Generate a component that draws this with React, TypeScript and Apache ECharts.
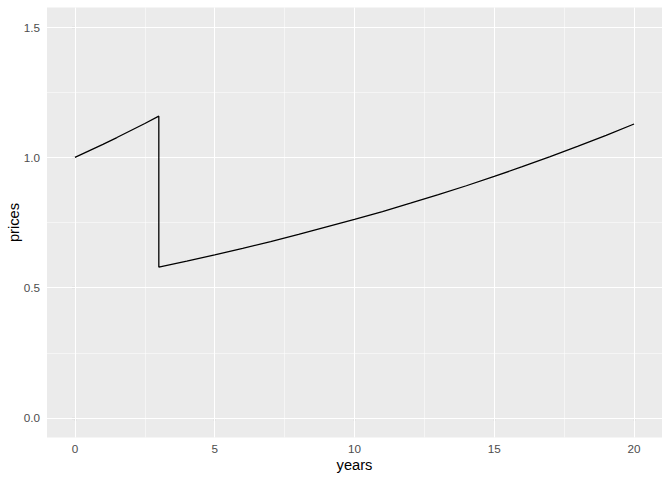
import React, { useEffect, useRef } from "react";
import * as echarts from "echarts";

const years = [0, 0.5, 1, 1.5, 2, 2.5, 3, 3, 4, 5, 6, 7, 8, 9, 10, 11, 12, 13, 14, 15, 16, 17, 18, 19, 20];
const prices = [1.0, 1.025, 1.05, 1.076, 1.103, 1.13, 1.158, 0.579, 0.602, 0.626, 0.651, 0.677, 0.704, 0.733, 0.762, 0.792, 0.824, 0.857, 0.891, 0.927, 0.964, 1.003, 1.043, 1.084, 1.128];

const xMajor = [0, 5, 10, 15, 20];
const xMinor = [2.5, 7.5, 12.5, 17.5];
const yMajor = [0, 0.5, 1.0, 1.5];
const yMinor = [0.25, 0.75, 1.25];

const FONT = "Liberation Sans, Arial, Helvetica, sans-serif";

export default function App() {
  const ref = useRef<HTMLDivElement>(null);
  useEffect(() => {
    document.body.style.margin = "0";
    if (!ref.current) return;
    const chart = echarts.init(ref.current, null, { renderer: "svg" });
    const major = { color: "#FFFFFF", width: 1.07, type: "solid" };
    const minor = { color: "#FFFFFF", width: 0.53, type: "solid" };
    const gridLines: any[] = [
      ...xMinor.map((v) => ({ xAxis: v, lineStyle: minor })),
      ...yMinor.map((v) => ({ yAxis: v, lineStyle: minor })),
      ...xMajor.map((v) => ({ xAxis: v, lineStyle: major })),
      ...yMajor.map((v) => ({ yAxis: v, lineStyle: major })),
    ];
    chart.setOption({
      animation: false,
      backgroundColor: "#FFFFFF",
      grid: {
        left: 47,
        right: 10,
        top: 7.5,
        bottom: 42.5,
        show: true,
        backgroundColor: "#EBEBEB",
        borderWidth: 0,
        containLabel: false,
        outerBoundsMode: "none",
      },
      xAxis: {
        type: "value",
        min: -1,
        max: 21,
        name: "years",
        nameLocation: "middle",
        nameGap: 19.5,
        nameMoveOverlap: false,
        nameTextStyle: { color: "#000000", fontSize: 14.7, fontFamily: FONT },
        axisLine: { show: false },
        axisTick: { show: true, customValues: xMajor, length: 3.5, lineStyle: { color: "#333333", width: 1.07 } },
        axisLabel: { show: true, customValues: xMajor, margin: 5, color: "#4D4D4D", fontSize: 11.7, fontFamily: FONT },
        splitLine: { show: false },
      },
      yAxis: {
        type: "value",
        min: -0.075,
        max: 1.575,
        name: "prices",
        nameLocation: "middle",
        nameGap: 26,
        nameRotate: 90,
        nameMoveOverlap: false,
        nameTextStyle: { color: "#000000", fontSize: 14.7, fontFamily: FONT },
        axisLine: { show: false },
        axisTick: { show: true, customValues: yMajor, length: 3.5, lineStyle: { color: "#333333", width: 1.07 } },
        axisLabel: {
          show: true,
          customValues: yMajor,
          margin: 7,
          color: "#4D4D4D",
          fontSize: 11.7,
          fontFamily: FONT,
          formatter: (v: number) => v.toFixed(1),
        },
        splitLine: { show: false },
      },
      series: [
        {
          type: "line",
          data: [],
          z: 1,
          silent: true,
          markLine: {
            silent: true,
            symbol: ["none", "none"],
            label: { show: false },
            emphasis: { disabled: true },
            data: gridLines,
            animation: false,
          },
        },
        {
          type: "line",
          z: 5,
          data: years.map((x, i) => [x, prices[i]]),
          showSymbol: false,
          symbol: "none",
          smooth: false,
          lineStyle: { color: "#000000", width: 1.3 },
        },
      ],
    });
    return () => chart.dispose();
  }, []);
  return <div ref={ref} style={{ width: 672, height: 480 }} />;
}
